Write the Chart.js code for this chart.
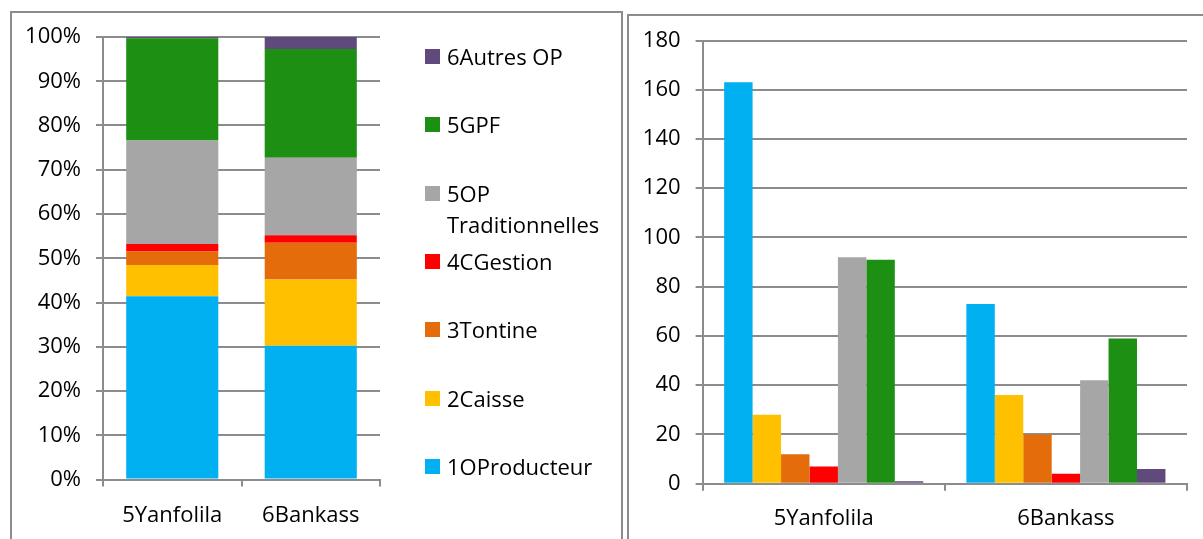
<!DOCTYPE html>
<html>
<head>
<meta charset="utf-8">
<script src="https://cdn.jsdelivr.net/npm/chart.js@4"></script>
<style>
  body { margin: 0; background: #fff; width: 1203px; height: 539px; overflow: hidden; position: relative; font-family: 'Open Sans', sans-serif; }
  .frame { position: absolute; border: 2px solid #8c8c8c; box-sizing: border-box; }
  #leftFrame { left: 10px; top: 11px; width: 613px; height: 600px; }
  #rightFrame { left: 627px; top: 14px; width: 700px; height: 600px; }
  #pctWrap { position: absolute; left: 0; top: 0; width: 400px; height: 539px; }
  #countWrap { position: absolute; left: 630px; top: 0; width: 573px; height: 539px; }
  #legend { position: absolute; left: 0; top: 0; width: 622px; height: 539px; }
  .item { position: absolute; left: 425px; width: 185px; font-size: 22px; line-height: 31px; color: #000; }
  .item .box { position: absolute; left: 0; top: 8px; width: 15px; height: 15px; }
  .item .txt { margin-left: 22px; }
</style>
</head>
<body>
<div class="frame" id="leftFrame"></div>
<div class="frame" id="rightFrame"></div>
<div id="pctWrap"><canvas id="pctChart"></canvas></div>
<div id="countWrap"><canvas id="countChart"></canvas></div>
<div id="legend"></div>

<script>
// categories
const zones = ["5Yanfolila", "6Bankass"];

// series (bottom to top in the stacked chart, left to right in the grouped one)
const seriesNames = ["1OProducteur", "2Caisse", "3Tontine", "4CGestion", "5OP Traditionnelles", "5GPF", "6Autres OP"];
const seriesColors = ["#00B0F0", "#FFC000", "#E46C0A", "#FF0000", "#A6A6A6", "#1D8F13", "#604A7B"];

// counts per zone (right chart)
const countYanfolila = [163, 28, 12, 7, 92, 91, 1];
const countBankass = [73, 36, 20, 4, 42, 59, 6];

// shares per zone in % (left chart)
const pctYanfolila = [41.4, 7.1, 3.0, 1.7, 23.4, 23.1, 0.3];
const pctBankass = [30.2, 15.0, 8.3, 1.7, 17.5, 24.6, 2.7];

const FONT = { family: "'Open Sans', sans-serif", size: 22 };
const GRID = "#8c8c8c";

const pctSets = seriesNames.map((name, i) => ({
  label: name,
  data: [pctYanfolila[i], pctBankass[i]],
  backgroundColor: seriesColors[i],
  borderWidth: 0,
  barPercentage: 0.665,
  categoryPercentage: 1,
}));

const countSets = seriesNames.map((name, i) => ({
  label: name,
  data: [countYanfolila[i], countBankass[i]],
  backgroundColor: seriesColors[i],
  borderWidth: 0,
  barPercentage: 1,
  categoryPercentage: 0.822,
}));

function xAxis(height, pad) {
  return {
    grid: { drawOnChartArea: false, drawTicks: true, tickLength: 7, color: GRID, lineWidth: 2, offset: true },
    border: { display: true, color: GRID, width: 2 },
    ticks: { color: "#000", font: FONT, padding: pad, maxRotation: 0 },
    afterFit: (s) => { s.height = height; },
  };
}

function yAxis(width, max, step, fmt) {
  return {
    min: 0,
    max: max,
    grid: { color: GRID, lineWidth: 2, tickLength: 7, drawTicks: true },
    border: { display: true, color: GRID, width: 2 },
    ticks: { color: "#000", font: FONT, padding: 15, stepSize: step, callback: fmt },
    afterFit: (s) => { s.width = width; },
  };
}

const common = {
  responsive: true,
  maintainAspectRatio: false,
  animation: false,
  plugins: { legend: { display: false }, tooltip: { enabled: false } },
};

new Chart(document.getElementById("pctChart"), {
  type: "bar",
  data: { labels: zones, datasets: pctSets },
  options: {
    ...common,
    layout: { padding: { left: 0, right: 20, top: 37, bottom: 0 } },
    scales: {
      x: { ...xAxis(59.5, 16), stacked: true },
      y: { ...yAxis(103, 100, 10, (v) => v + "%"), stacked: true },
    },
  },
});

new Chart(document.getElementById("countChart"), {
  type: "bar",
  data: { labels: zones, datasets: countSets },
  options: {
    ...common,
    layout: { padding: { left: 0, right: 16, top: 40.5, bottom: 0 } },
    scales: {
      x: xAxis(55.3, 15),
      y: yAxis(72.6, 180, 20, (v) => v),
    },
  },
});

// legend of the left chart, top entry is the last series
const legend = document.getElementById("legend");
seriesNames.slice().reverse().forEach((name, i) => {
  const idx = seriesNames.length - 1 - i;
  const el = document.createElement("div");
  el.className = "item";
  el.style.top = (41 + i * 68.3) + "px";
  el.innerHTML = '<span class="box" style="background:' + seriesColors[idx] + '"></span><div class="txt">' + name + "</div>";
  legend.appendChild(el);
});
</script>
</body>
</html>
